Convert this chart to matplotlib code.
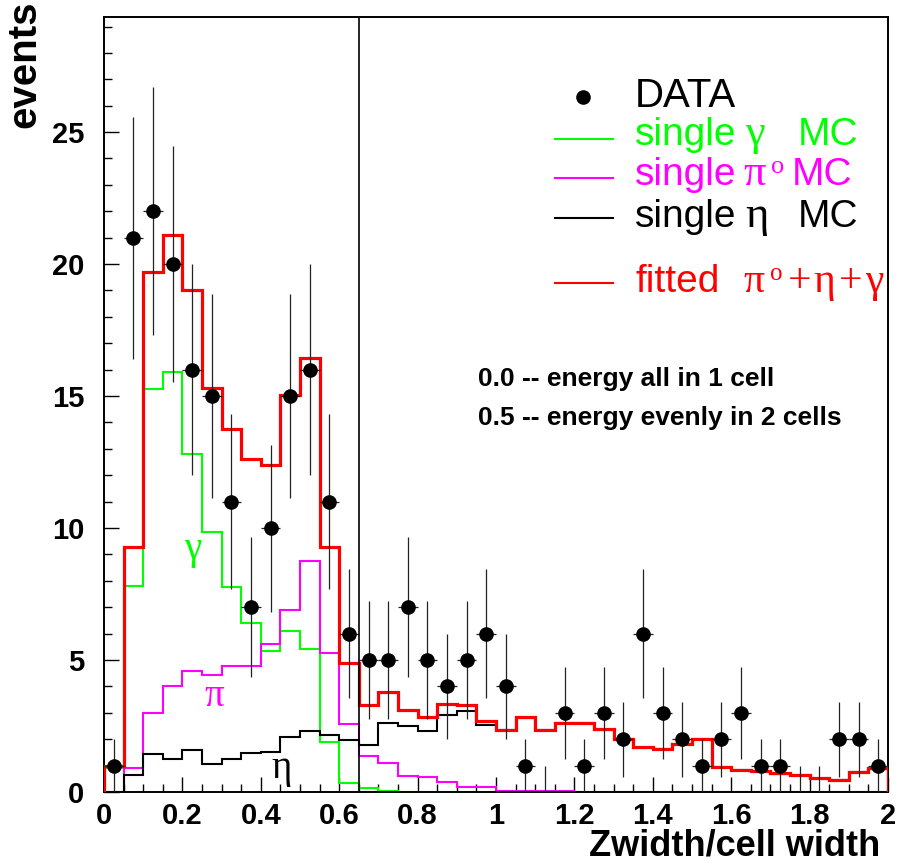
import numpy as np
import matplotlib
matplotlib.use("Agg")
import matplotlib.pyplot as plt
from matplotlib.ticker import MultipleLocator, FuncFormatter
from matplotlib.lines import Line2D

# 40 bins of width 0.05 between 0 and 2
edges = np.linspace(0.0, 2.0, 41)

data = [1, 21, 22, 20, 16, 15, 11, 7, 10, 15,
        16, 11, 6, 5, 5, 7, 5, 4, 5, 6,
        4, 1, 0, 3, 1, 3, 2, 6, 3, 2,
        1, 2, 3, 1, 1, 0, 0, 2, 2, 1]

fit = [1.0, 9.3, 19.7, 21.1, 19.0, 15.3, 13.75, 12.6, 12.4, 15.05,
       16.45, 9.3, 4.87, 3.3, 3.8, 3.1, 2.83, 3.33, 3.3, 2.69,
       2.35, 2.83, 2.35, 2.6, 2.63, 2.37, 2.02, 1.69, 1.63, 1.82,
       2.0, 0.96, 0.83, 0.81, 0.71, 0.64, 0.52, 0.45, 0.77, 0.9]

gam = [0.9, 7.8, 15.25, 15.9, 12.8, 9.85, 7.75, 6.4, 5.35, 6.1,
       5.4, 1.9, 0.35, 0.15, 0.05, 0, 0, 0, 0, 0,
       0, 0, 0, 0, 0, 0, 0, 0, 0, 0,
       0, 0, 0, 0, 0, 0, 0, 0, 0, 0]

pi0 = [0.0, 0.9, 3.0, 4.03, 4.6, 4.42, 4.77, 4.77, 5.6, 6.9,
       8.77, 5.28, 2.57, 1.36, 1.11, 0.61, 0.55, 0.36, 0.2, 0.18,
       0.05, 0.03, 0.02, 0.02, 0.01, 0.01, 0, 0, 0, 0,
       0, 0, 0, 0, 0, 0, 0, 0, 0, 0]

eta = [0.0, 0.63, 1.44, 1.25, 1.6, 1.07, 1.25, 1.48, 1.53, 2.08,
       2.31, 2.15, 1.97, 1.78, 2.63, 2.5, 2.32, 2.92, 3.08, 2.54,
       2.33, 2.8, 2.33, 2.6, 2.62, 2.36, 2.01, 1.68, 1.62, 1.81,
       1.99, 0.95, 0.82, 0.8, 0.7, 0.63, 0.51, 0.44, 0.76, 0.89]

cut = 0.65

SANS = 'Liberation Sans'
SERIF = 'Liberation Serif'
GREEN = '#00ff00'
MAG = '#ff00ff'
RED = '#ff0000'

W, H = 898, 865
fig = plt.figure(figsize=(W / 100, H / 100), dpi=100)
ax = fig.add_axes([104 / W, 1 - 792 / H, (888 - 104) / W, (792 - 17) / H])


def fx(x):
    return x / W


def fy(y):
    return 1 - y / H


ax.stairs(gam, edges, color=GREEN, lw=1.5, zorder=2)
ax.stairs(pi0, edges, color=MAG, lw=1.5, zorder=2)
ax.stairs(eta, edges, color='black', lw=1.5, zorder=2)
ax.stairs(fit, edges, color=RED, lw=2.3, zorder=3)

centers = 0.5 * (edges[:-1] + edges[1:])
counts = np.array(data, dtype=float)
nz = counts > 0
ax.errorbar(centers[nz], counts[nz], yerr=np.sqrt(counts[nz]), xerr=0.025,
            fmt='o', ms=9.5, color='black', ecolor='#222222',
            elinewidth=0.9, capsize=0, zorder=4)
ax.vlines(centers[~nz], 0, 1, color='#222222', lw=0.9, zorder=4)

ax.axvline(cut, color='black', lw=1.2, zorder=5)

ax.set_xlim(0, 2)
ax.set_ylim(0, 29.36)
ax.xaxis.set_major_locator(MultipleLocator(0.2))
ax.xaxis.set_minor_locator(MultipleLocator(0.05))
ax.yaxis.set_major_locator(MultipleLocator(5))
ax.yaxis.set_minor_locator(MultipleLocator(1))
ax.tick_params(which='both', direction='in', top=False, right=False,
               width=1.0, color='black')
ax.tick_params(which='major', length=11)
ax.tick_params(which='minor', length=5.5)
ax.tick_params(axis='x', which='major', pad=7)
ax.tick_params(axis='y', which='major', pad=14)
ax.xaxis.set_major_formatter(FuncFormatter(
    lambda v, p: ('%.1f' % v).rstrip('0').rstrip('.') if v else '0'))
for lab in ax.get_xticklabels() + ax.get_yticklabels():
    lab.set_fontfamily(SANS)
    lab.set_fontweight('bold')
    lab.set_fontsize(21)
for s in ax.spines.values():
    s.set_linewidth(1.4)

# axis titles
fig.text(fx(24), fy(0), 'events', rotation=90, ha='center', va='top',
         fontsize=29, fontweight='bold', family=SANS)
fig.text(fx(880), fy(856), 'Zwidth/cell width', ha='right', va='baseline',
         fontsize=26, fontweight='bold', family=SANS)

# greek labels in the plot
ax.text(0.227, 9.2, 'γ', color=GREEN, fontsize=28, family=SERIF,
        ha='center', va='center')
ax.text(0.281, 3.6, 'π', color=MAG, fontsize=28, family=SERIF,
        ha='center', va='center')
ax.text(0.452, 0.9, 'η', color='black', fontsize=28, family=SERIF,
        ha='center', va='center')

# notes
fig.text(fx(478), fy(386), '0.0 -- energy all in 1 cell', fontsize=19,
         fontweight='bold', family=SANS, va='baseline')
fig.text(fx(478), fy(425), '0.5 -- energy evenly in 2 cells', fontsize=19,
         fontweight='bold', family=SANS, va='baseline')

# legend
fig.add_artist(Line2D([fx(583)], [fy(97)], marker='o', ms=9.5,
                      color='black', ls='none'))
fig.text(fx(635), fy(107), 'DATA', fontsize=29, family=SANS, va='baseline')

rows = [
    (139, 145, GREEN, [('single', 635, SANS, 28, 0), ('γ', 745, SERIF, 32, 0),
                       ('MC', 798, SANS, 28, 0)]),
    (178, 185, MAG, [('single', 635, SANS, 28, 0), ('π', 743, SERIF, 32, 0),
                     ('o', 771, SERIF, 19, 12), ('MC', 792, SANS, 28, 0)]),
    (218, 227, 'black', [('single', 635, SANS, 28, 0), ('η', 745, SERIF, 32, 0),
                         ('MC', 798, SANS, 28, 0)]),
    (283, 292, RED, [('fitted', 635, SANS, 28, 0), ('π', 743, SERIF, 30, 0),
                     ('o', 770, SERIF, 18, 12), ('+', 788, SERIF, 30, 0),
                     ('η', 813, SERIF, 30, 0), ('+', 839, SERIF, 30, 0),
                     ('γ', 865, SERIF, 30, 0)]),
]
for ly, base, col, parts in rows:
    fig.add_artist(Line2D([fx(555), fx(613)], [fy(ly), fy(ly)], color=col,
                          lw=1.5))
    for txt, x0, fam, size, lift in parts:
        fig.text(fx(x0), fy(base - lift), txt, color=col, fontsize=size,
                 family=fam, va='baseline')

fig.savefig('out.png', dpi=100)
